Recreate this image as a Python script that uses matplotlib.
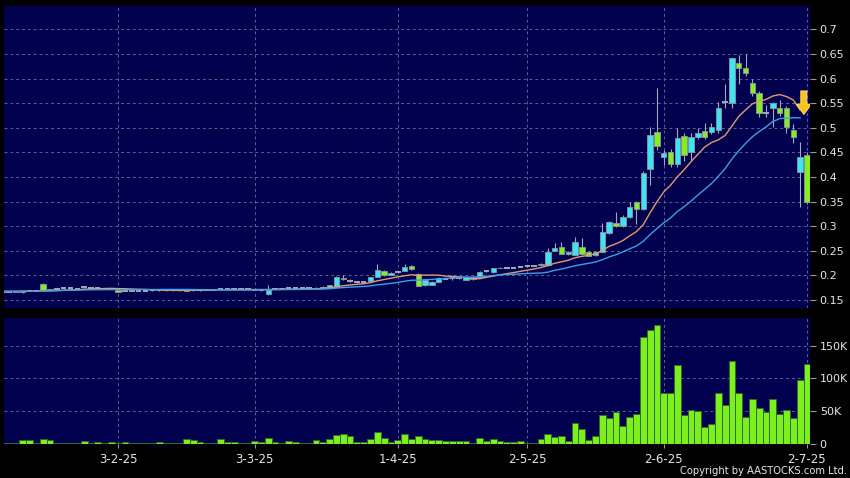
import numpy as np
import pandas as pd
import matplotlib
matplotlib.use("Agg")
import matplotlib.pyplot as plt
from matplotlib.patches import Polygon

# ---------------- data ----------------
holidays = ["2025-01-29", "2025-01-30", "2025-01-31", "2025-04-04", "2025-04-18",
            "2025-04-21", "2025-05-01", "2025-05-05", "2025-07-01"]
dates = pd.bdate_range("2025-01-02", "2025-07-02", freq="C", holidays=holidays)

opens = [.168, .168, .168, .167, .167, .166, .169, .169, .183, .170,
         .172, .174, .174, .173, .176, .175, .174, .173, .173, .170,
         .169, .169, .169, .169, .170, .170, .170, .170, .170, .169,
         .170, .170, .171, .171, .172, .172, .172, .172, .172, .171,
         .170, .162, .173, .173, .174, .174, .174, .174, .174, .175,
         .176, .177, .195, .189, .187, .187, .189, .197, .208, .201,
         .2075, .2096, .2197, .2022, .181, .181, .187, .193, .194, .194,
         .191, .192, .196, .208, .206, .215, .216, .216, .218, .219,
         .220, .221, .221, .250, .258, .2435, .242, .258, .247, .2415,
         .248, .287, .306, .300, .319, .350, .334, .416, .491, .440,
         .450, .426, .483, .450, .481, .494, .491, .496, .552, .550,
         .631, .621, .592, .570, .530, .540, .540, .540, .4955, .410,
         .445]
highs = [.169, .169, .169, .168, .169, .169, .171, .170, .185, .172,
         .173, .175, .175, .174, .177, .176, .176, .174, .175, .171,
         .170, .170, .170, .170, .171, .172, .171, .171, .171, .171,
         .171, .171, .172, .172, .173, .173, .173, .173, .173, .172,
         .171, .180, .174, .174, .175, .175, .175, .175, .176, .178,
         .181, .198, .200, .192, .189, .189, .197, .2225, .210, .206,
         .209, .223, .222, .205, .191, .188, .196, .195, .196, .195,
         .197, .198, .208, .209, .215, .217, .218, .217, .219, .220,
         .222, .226, .255, .265, .268, .249, .2787, .276, .249, .250,
         .306, .311, .3295, .322, .350, .352, .413, .502, .580, .455,
         .457, .499, .490, .490, .500, .510, .510, .553, .590, .641,
         .648, .650, .600, .575, .546, .553, .556, .545, .507, .472,
         .450]
lows = [.167, .167, .166, .166, .166, .165, .168, .168, .169, .169,
        .171, .173, .173, .172, .174, .174, .173, .172, .172, .166,
        .168, .168, .168, .168, .169, .169, .169, .169, .169, .168,
        .169, .169, .170, .170, .171, .171, .171, .171, .171, .170,
        .169, .161, .172, .172, .173, .173, .173, .173, .173, .174,
        .175, .176, .190, .187, .185, .185, .188, .196, .199, .200,
        .205, .209, .211, .178, .179, .180, .186, .192, .191, .193,
        .190, .191, .195, .207, .205, .214, .215, .215, .217, .218,
        .219, .220, .220, .249, .243, .242, .241, .242, .239, .240,
        .247, .285, .298, .298, .317, .3045, .332, .384, .455, .425,
        .421, .420, .432, .432, .478, .478, .488, .490, .540, .540,
        .590, .605, .565, .521, .521, .502, .525, .489, .470, .340,
        .345]
closes = [.168, .168, .167, .167, .168, .169, .169, .169, .170, .172,
          .172, .174, .174, .173, .176, .175, .174, .173, .173, .167,
          .169, .169, .169, .169, .170, .171, .170, .170, .170, .170,
          .170, .170, .171, .171, .172, .172, .172, .172, .172, .171,
          .170, .170, .173, .173, .174, .174, .174, .174, .175, .177,
          .180, .196, .192, .189, .187, .187, .196, .211, .201, .204,
          .2075, .2177, .2124, .179, .1907, .187, .194, .193, .194, .194,
          .196, .1967, .2075, .208, .214, .216, .216, .216, .218, .219,
          .220, .224, .248, .255, .244, .247, .268, .2435, .240, .248,
          .289, .309, .300, .319, .340, .334, .409, .485, .462, .449,
          .426, .480, .445, .481, .490, .481, .501, .540, .552, .641,
          .621, .611, .570, .530, .530, .550, .530, .501, .481, .441,
          .350]
volumes_k = [0.5, 0.5, 0.5, 0.8, 0.8, 5, 6, 1, 7.5, 5.5,
             0.5, 1, 0.5, 0.5, 4.5, 0.2, 2, 0.5, 2.5, 1,
             2, 0.5, 0.5, 0.5, 1.5, 3, 0.5, 1.5, 0.5, 6.5,
             5.5, 2, 0.5, 0.5, 6.5, 2, 2, 0.2, 1.5, 4.5,
             2, 9, 2, 0.5, 3.5, 3, 0.5, 0.5, 6, 2,
             6.5, 12.5, 15, 11, 2.5, 2.5, 6.5, 17, 8, 2,
             6, 14, 7, 11, 7.5, 5, 5, 3.5, 3.5, 3.5,
             3.5, 0.2, 8.5, 4, 7, 3.5, 2, 2, 3.5, 0.2,
             0.2, 7.5, 15, 10, 12, 4, 32, 22, 5, 11,
             44, 39, 49, 27, 41, 46, 164, 175, 182, 77,
             77, 121, 44, 52, 50, 26, 30, 78, 59, 127,
             77, 40, 68, 55, 48, 69, 46, 51, 38.5, 98,
             123]

ma_short, ma_long = 10, 20
tick_dates = ["2025-02-03", "2025-03-03", "2025-04-01", "2025-05-02", "2025-06-02", "2025-07-02"]
price_ticks = [0.15, 0.2, 0.25, 0.3, 0.35, 0.4, 0.45, 0.5, 0.55, 0.6, 0.65, 0.7]
vol_ticks = [0, 50000, 100000, 150000]
vol_tick_labels = ["0", "50K", "100K", "150K"]
signal_marker = [119.55, 0.527]   # yellow down-arrow (x index, tip price)

# ---------------- styling ----------------
BG = "#00004E"
GRID = "#56629A"
TXT = "#E6E6E6"
UP = "#3EE4F0"
DOWN = "#84EE1E"
EDGE = "#8A96A8"
WICK = "#A4AAB8"

o = np.array(opens); h = np.array(highs); l = np.array(lows); c = np.array(closes)
v = np.array(volumes_k) * 1000
x = np.arange(len(c))
close_s = pd.Series(c)
ma1 = close_s.rolling(ma_short, min_periods=1).mean().to_numpy()
ma2 = close_s.rolling(ma_long, min_periods=1).mean().to_numpy()

W, H = 850, 478
fig = plt.figure(figsize=(W / 100, H / 100), dpi=100, facecolor="black")
ax = fig.add_axes([4 / W, 1 - 308 / H, 806 / W, 302 / H])
axv = fig.add_axes([4 / W, 1 - 443.5 / H, 806 / W, 125.5 / H])

xlim = (2.25, 120.45)
tick_idx = [int(np.where(dates == pd.Timestamp(d))[0][0]) for d in tick_dates]
tick_lab = [f"{pd.Timestamp(d).day}-{pd.Timestamp(d).month}-{pd.Timestamp(d).strftime('%y')}" for d in tick_dates]

for a in (ax, axv):
    a.set_facecolor(BG)
    for s in a.spines.values():
        s.set_visible(False)
    a.set_xlim(*xlim)
    a.set_xticks(tick_idx)
    a.grid(True, color=GRID, linestyle=(0, (3, 3)), linewidth=0.7)
    a.set_axisbelow(True)
    a.yaxis.tick_right()
    a.tick_params(axis="y", colors="#9A9A9A", labelcolor=TXT, labelsize=8, length=4, width=0.8, pad=3)

ax.tick_params(axis="x", length=0, labelbottom=False)
axv.set_xticklabels(tick_lab)
axv.tick_params(axis="x", colors="#9A9A9A", labelcolor=TXT, labelsize=8.5, length=3, width=0.8, pad=4)

# ---------------- price panel ----------------
ax.set_ylim(0.1337, 0.7476)
ax.set_yticks(price_ticks)
ax.set_yticklabels([f"{t:g}" for t in price_ticks])

bw = 0.8
ax.vlines(x, l, h, color=WICK, linewidth=0.8, zorder=2)
doji = np.abs(c - o) < 0.0006
up = (c > o) & ~doji
dn = (c < o) & ~doji
ax.bar(x[up], (c - o)[up], bottom=o[up], width=bw, color=UP, edgecolor=EDGE, linewidth=0.6, zorder=3)
ax.bar(x[dn], (o - c)[dn], bottom=c[dn], width=bw, color=DOWN, edgecolor=EDGE, linewidth=0.6, zorder=3)
ax.hlines(c[doji], x[doji] - bw / 2, x[doji] + bw / 2, color=WICK, linewidth=1.4, zorder=3)

ax.plot(x[:-1], ma1[:-1], color="#E49A72", linewidth=1.0, zorder=4)
ax.plot(x[:-1], ma2[:-1], color="#3E9EE8", linewidth=1.0, zorder=4)

xa, ya = signal_marker
top, head = ya + 0.048, ya + 0.021
arrow = Polygon([(xa - 0.45, top), (xa + 0.45, top), (xa + 0.45, head), (xa + 1.1, head),
                 (xa, ya), (xa - 1.1, head), (xa - 0.45, head)],
                closed=True, facecolor="#FFC21A", edgecolor="#FFE680", linewidth=0.6, zorder=6)
ax.add_patch(arrow)

# ---------------- volume panel ----------------
axv.bar(x, v, width=1.0, color="#7CF01C", edgecolor="#2F6A30", linewidth=0.7, zorder=3)
axv.set_ylim(0, 193000)
axv.set_yticks(vol_ticks)
axv.set_yticklabels(vol_tick_labels)

fig.text(847 / W, 1 - 471 / H, "Copyright by AASTOCKS.com Ltd.", ha="right", va="center",
         fontsize=7.2, color=TXT)

fig.savefig("out.png", dpi=100, facecolor="black")
